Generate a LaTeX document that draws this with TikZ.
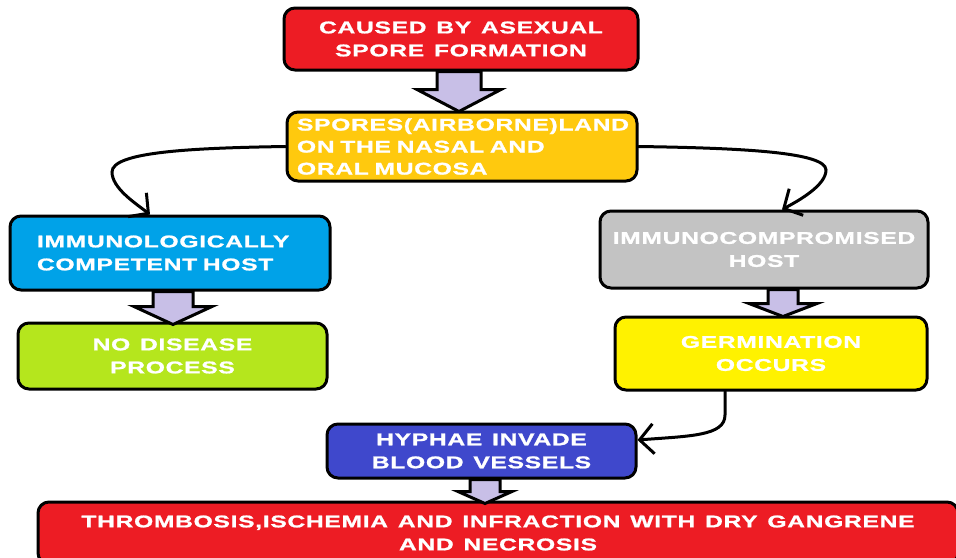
\documentclass[tikz,border=0pt]{standalone}
\usepackage{fontspec}
\newfontfamily\boxfont{Liberation Sans}[FakeStretch=1.45,LetterSpace=4,WordSpace=1.3,FakeBold=1.2]
\usetikzlibrary{arrows.meta,calc}
\definecolor{cRed}{HTML}{ED1C24}
\definecolor{cOrange}{HTML}{FFC90E}
\definecolor{cCyan}{HTML}{00A2E8}
\definecolor{cGreen}{HTML}{B5E61D}
\definecolor{cGray}{HTML}{C3C3C3}
\definecolor{cYellow}{HTML}{FFF200}
\definecolor{cBlue}{HTML}{3F48CC}
\definecolor{cLav}{HTML}{C8BFE7}
\newcommand{\blkarrow}[6]{%
  \draw[blk] ($(#1)+(#2-#3,0)$) -- ($(#1)+(#2-#3,#5-#6)$) -- ($(#1)+(#2-#4,#5-#6)$)
    -- ($(#1)+(#2,#5)$) -- ($(#1)+(#2+#4,#5-#6)$) -- ($(#1)+(#2+#3,#5-#6)$)
    -- ($(#1)+(#2+#3,0)$) -- cycle;}
\begin{document}
\begin{tikzpicture}[x=1pt,y=-1pt,
  box/.style={draw=black,line width=3pt,rounded corners=11pt,text=white,
    font=\boxfont\bfseries\fontsize{17}{23}\selectfont,inner sep=0pt,align=center},
  blk/.style={fill=cLav,draw=black,line width=3pt,line join=miter},
  conn/.style={draw=black,line width=3pt,line cap=round,
    -{Straight Barb[length=14pt,width=30pt]}}]
\useasboundingbox (0,0) rectangle (956,557);
\fill[white] (0,0) rectangle (956,557);
\clip (0,0) rectangle (956,557);

\node[box,fill=cRed,minimum width=354pt,minimum height=62pt] (cause) at (461,39)
  {CAUSED BY ASEXUAL\\SPORE FORMATION};
\node[box,fill=cOrange,minimum width=350pt,minimum height=69pt,text width=330pt,
  align=left,inner xsep=10pt,font=\boxfont\bfseries\fontsize{17}{22}\selectfont] (spores) at (462,146.5)
  {SPORES(AIRBORNE)LAND\\ON THE NASAL AND\\ORAL MUCOSA};
\node[box,fill=cCyan,minimum width=320pt,minimum height=74pt,text width=266pt,
  align=left,inner xsep=27pt] (immune) at (170,253)
  {IMMUNOLOGICALLY\\COMPETENT HOST};
\node[box,fill=cGreen,minimum width=309pt,minimum height=66pt] (nodis) at (172.5,356)
  {NO DISEASE\\PROCESS};
\node[box,fill=cGray,minimum width=328pt,minimum height=77pt] (compromised) at (764,249.5)
  {IMMUNOCOMPROMISED\\HOST};
\node[box,fill=cYellow,minimum width=312pt,minimum height=73pt] (germ) at (771,353.5)
  {GERMINATION\\OCCURS};
\node[box,fill=cBlue,minimum width=309pt,minimum height=54pt] (hyphae) at (481.5,451)
  {HYPHAE INVADE\\BLOOD VESSELS};
\node[box,fill=cRed,minimum width=920pt,minimum height=62pt] (thromb) at (498,533)
  {THROMBOSIS,ISCHEMIA AND INFRACTION WITH DRY GANGRENE\\AND NECROSIS};

\blkarrow{cause.south}{-2}{22}{42}{40}{22}
\blkarrow{immune.south}{3}{20}{39}{33}{18}
\blkarrow{compromised.south}{19}{15}{34}{27}{13}
\blkarrow{hyphae.south}{3.5}{15}{27}{24}{12}

\draw[conn] (spores.west) .. controls (190,148) and (112,152) .. (112,172)
  .. controls (112,188) and (135,203) .. ([xshift=-20pt]immune.north);
\draw[conn] (spores.east) .. controls (740,148) and (826,152) .. (826,170)
  .. controls (826,185) and (800,200) .. ([xshift=18pt]compromised.north);
\draw[conn] ([xshift=-46pt]germ.south) -- (725,415)
  .. controls (725,436) and (690,436) .. ([yshift=11pt]hyphae.east);
\end{tikzpicture}
\end{document}
